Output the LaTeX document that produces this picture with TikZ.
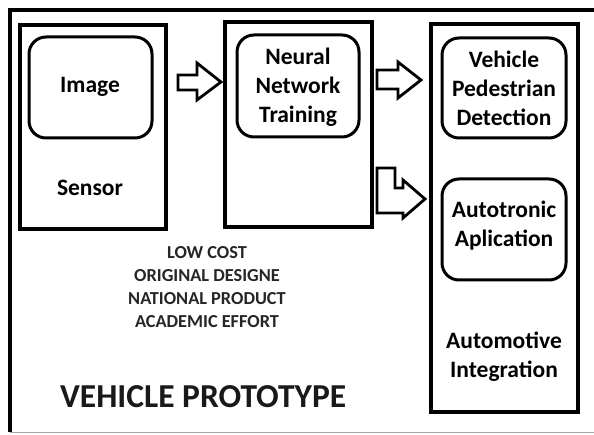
\documentclass[tikz,border=0pt]{standalone}
\usepackage{fontspec}
\setmainfont{Carlito}
\tikzset{
  frame/.style={draw=black, line width=3.2pt},
  panel/.style={draw=black, line width=3.4pt},
  inner/.style={draw=black, line width=3pt, rounded corners=17pt},
  blockarrow/.style={draw=black, line width=2.8pt, line join=miter, fill=white},
  label/.style={font=\bfseries\fontsize{23.5}{29}\selectfont, align=center, inner sep=0pt},
  note/.style={font=\bfseries\fontsize{18.3}{23}\selectfont, align=center, inner sep=0pt, text=black!85},
  title/.style={font=\bfseries\fontsize{33.5}{38}\selectfont, inner sep=0pt, text=black!90}
}
\begin{document}
\begin{tikzpicture}[x=1pt, y=-1pt]
  \useasboundingbox (0,0) rectangle (594,435);
  \fill[white] (0,0) rectangle (594,435);

  % outer frame: top and left rules, faint bottom rule
  \draw[frame] (594,10) -- (10,10) -- (10,432);
  \draw[black!35, line width=1pt] (10,432) -- (594,432);

  % sensor panel
  \draw[panel] (20,25) rectangle (166,229);
  \draw[inner] (29,37) rectangle (152,138);
  \node[label] (image) at (90,87) {Image};
  \node[label] (sensor) at (90,188) {Sensor};

  % training panel
  \draw[panel] (225,22) rectangle (372,227);
  \draw[inner] (237,35) rectangle (359,137);
  \node[label] (nn) at (298,87) {Neural\\Network\\Training};

  % integration panel
  \draw[panel] (431,24) rectangle (578,412);
  \draw[inner] (442,38) rectangle (566,138);
  \node[label] (det) at (504,88) {Vehicle\\Pedestrian\\Detection};
  \draw[inner] (442,179) rectangle (566,280);
  \node[label] (auto) at (504,226) {Autotronic\\Aplication};
  \node[label] (integ) at (504,357) {Automotive\\Integration};

  % block arrows between panels
  \draw[blockarrow] (178,75) -- (197,75) -- (197,63) -- (221,82) -- (197,100) -- (197,90) -- (178,90) -- cycle;
  \draw[blockarrow] (377,70) -- (398,70) -- (398,62) -- (421,80) -- (398,98) -- (398,89) -- (377,89) -- cycle;
  \draw[blockarrow] (377,168) -- (395,168) -- (395,188) -- (403,188) -- (403,180) -- (425,199) -- (403,218) -- (403,213) -- (377,213) -- cycle;

  % notes and title
  \node[note] (notes) at (207,287) {LOW COST\\ORIGINAL DESIGNE\\NATIONAL PRODUCT\\ACADEMIC EFFORT};
  \node[title, anchor=west] (proto) at (60,397) {VEHICLE PROTOTYPE};
\end{tikzpicture}
\end{document}
